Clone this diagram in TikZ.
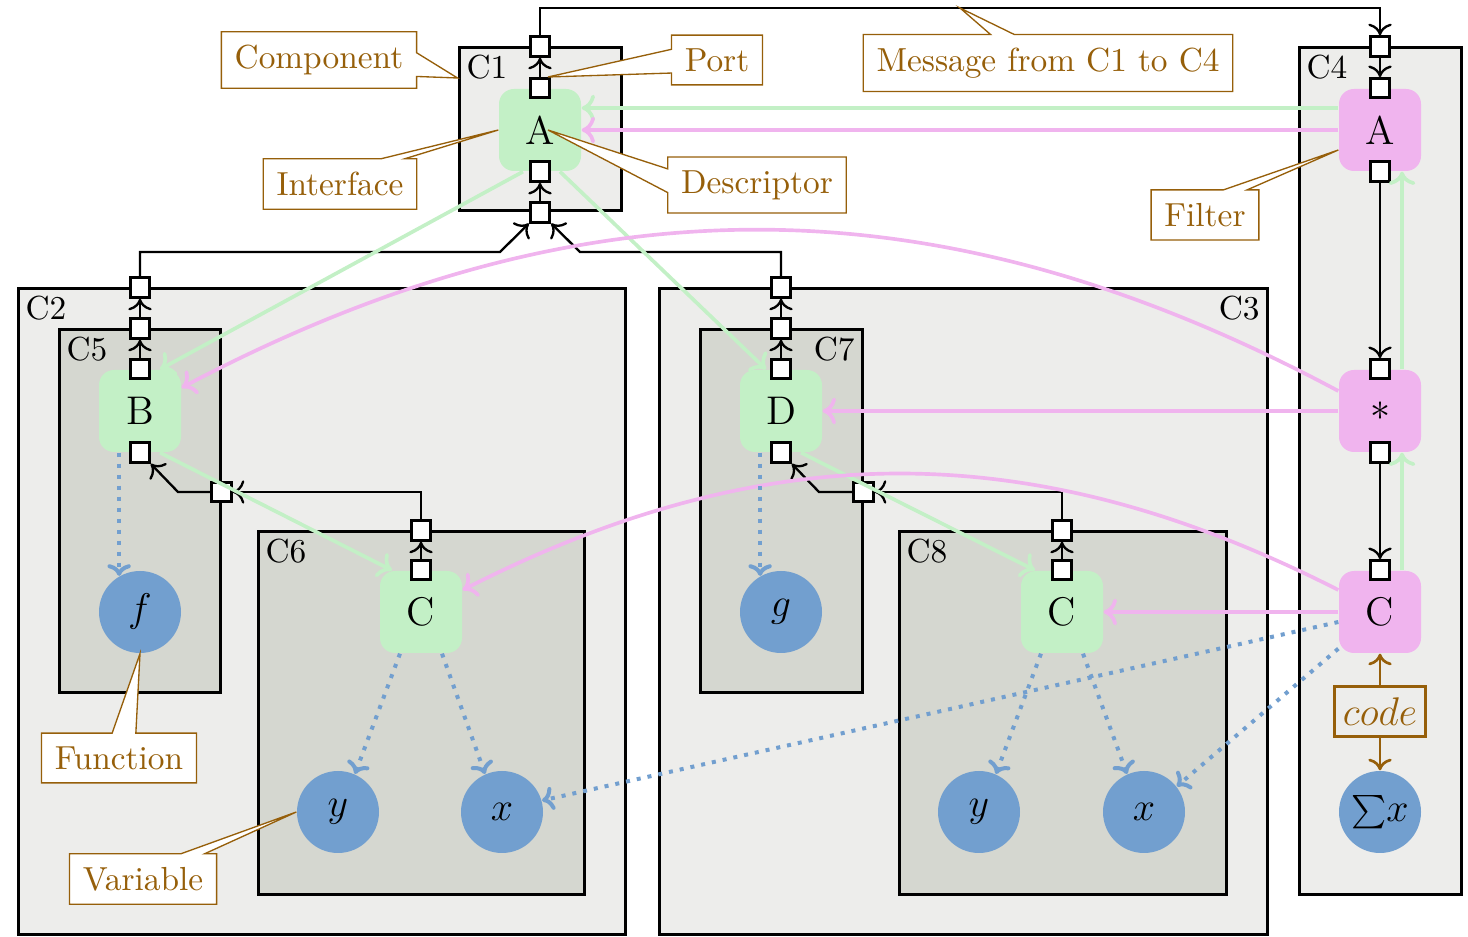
\documentclass[tikz,border=0pt]{standalone}
\usepackage{tikz}
\usetikzlibrary{positioning,calc,arrows.meta,shapes.callouts}
\definecolor{compgray}{RGB}{237,237,235}
\definecolor{subgray}{RGB}{213,215,208}
\definecolor{descgreen}{RGB}{195,240,198}
\definecolor{descpink}{RGB}{240,180,238}
\definecolor{varblue}{RGB}{114,159,207}
\definecolor{notebrown}{RGB}{150,95,10}
\tikzset{
  component/.style  = {draw, line width=0.9pt, fill=compgray, rectangle, inner sep=0pt},
  subcomp/.style    = {component, fill=subgray},
  tag/.style        = {inner sep=2.5pt},
  desc/.style       = {rectangle, rounded corners=4.5pt, minimum size=24.6pt,
                       inner sep=0pt, font=\large},
  green desc/.style = {desc, fill=descgreen},
  pink desc/.style  = {desc, fill=descpink},
  port/.style       = {draw, line width=0.9pt, fill=white, minimum size=5.8pt,
                       inner sep=0pt},
  var/.style        = {circle, fill=varblue, minimum size=24.6pt, inner sep=0pt,
                       font=\large},
  codebox/.style    = {draw=notebrown, line width=0.9pt, text=notebrown,
                       inner xsep=2.5pt, minimum height=13.2pt, font=\large},
  wire/.style       = {->, line width=0.7pt},
  msg/.style        = {-{To[length=4pt,width=8pt]}, draw=descgreen, line width=1.1pt},
  sel/.style        = {-{To[length=4pt,width=8pt]}, draw=descpink, line width=1.1pt},
  dep/.style        = {->, draw=varblue, line width=1.2pt,
                       dash pattern=on 1.2pt off 2.1pt},
  codeline/.style   = {->, draw=notebrown, line width=0.8pt},
  note/.style       = {rectangle callout, draw=notebrown, thin, fill=white,
                       text=notebrown, inner sep=4pt}
}

\begin{document}
\begin{tikzpicture}[x=0.3pt, y=-0.3pt, >={To[length=3.5pt,width=7pt]}]
  \useasboundingbox (0,0) rectangle (1468,937);

  % components
  \node[component, minimum width=182.1pt, minimum height=193.8pt] (C2) at (321.5,612) {};
  \node[component, minimum width=182.4pt, minimum height=193.8pt] (C3) at (963,612) {};
  \node[component, minimum width=48.6pt, minimum height=48.9pt] (C1) at (540,129.5) {};
  \node[component, minimum width=48.6pt, minimum height=254.1pt] (C4) at (1380,471.5) {};
  \node[subcomp, minimum width=48.3pt, minimum height=108.9pt] (C5) at (139.5,511.5) {};
  \node[subcomp, minimum width=97.8pt, minimum height=108.9pt] (C6) at (421,713.5) {};
  \node[subcomp, minimum width=48.6pt, minimum height=108.9pt] (C7) at (781,511.5) {};
  \node[subcomp, minimum width=98.1pt, minimum height=108.9pt] (C8) at (1062.5,713.5) {};

  \node[tag, anchor=north west] (C1-l) at (C1.north west) {C1};
  \node[tag, anchor=north west] (C2-l) at (C2.north west) {C2};
  \node[tag, anchor=north east] (C3-l) at (C3.north east) {C3};
  \node[tag, anchor=north west] (C4-l) at (C4.north west) {C4};
  \node[tag, anchor=north west] (C5-l) at (C5.north west) {C5};
  \node[tag, anchor=north west] (C6-l) at (C6.north west) {C6};
  \node[tag, anchor=north east] (C7-l) at (C7.north east) {C7};
  \node[tag, anchor=north west] (C8-l) at (C8.north west) {C8};

  % descriptors
  \node[green desc] (a1) at (540,130) {A};
  \node[pink desc] (a4) at (1380,130) {A};
  \node[pink desc] (star4) at (1380,411) {$*$};
  \node[pink desc] (c4) at (1380,612) {C};
  \node[green desc] (b5) at (140,411) {B};
  \node[green desc] (c6) at (421,612) {C};
  \node[green desc] (d7) at (781,411) {D};
  \node[green desc] (c8) at (1062,612) {C};

  % variables
  \node[var] (f) at (140,612) {$f$};
  \node[var] (g) at (781,612) {$g$};
  \node[var] (y6) at (338,812) {$y$};
  \node[var] (x6) at (502,812) {$x$};
  \node[var] (y8) at (979,812) {$y$};
  \node[var] (x8) at (1144,812) {$x$};
  \node[var] (sx) at (1380,812) {${\sum}x$};
  \node[codebox] (code) at (1380,712) {$code$};

  % ports
  \node[port] (C1-top) at (C1.north) {};
  \node[port] (C1-bot) at (C1.south) {};
  \node[port] (a1-top) at (a1.north) {};
  \node[port] (a1-bot) at (a1.south) {};
  \node[port] (C4-top) at (C4.north) {};
  \node[port] (a4-top) at (a4.north) {};
  \node[port] (a4-bot) at (a4.south) {};
  \node[port] (s4-top) at (star4.north) {};
  \node[port] (s4-bot) at (star4.south) {};
  \node[port] (c4-top) at (c4.north) {};
  \node[port] (C2-top) at (b5 |- C2.north) {};
  \node[port] (C5-top) at (b5 |- C5.north) {};
  \node[port] (b5-top) at (b5.north) {};
  \node[port] (b5-bot) at (b5.south) {};
  \node[port] (C5-right) at (C5.east |- 0,492) {};
  \node[port] (C6-top) at (c6 |- C6.north) {};
  \node[port] (c6-top) at (c6.north) {};
  \node[port] (C3-top) at (d7 |- C3.north) {};
  \node[port] (C7-top) at (d7 |- C7.north) {};
  \node[port] (d7-top) at (d7.north) {};
  \node[port] (d7-bot) at (d7.south) {};
  \node[port] (C7-right) at (C7.east |- 0,492) {};
  \node[port] (C8-top) at (c8 |- C8.north) {};
  \node[port] (c8-top) at (c8.north) {};

  % messages between ports
  \coordinate (mid) at (960,8);
  \coordinate (j2) at (500,252);
  \coordinate (j3) at (580,252);
  \coordinate (k5) at (178,492);
  \coordinate (k7) at (819,492);
  \draw[wire] (a1-top) -- (C1-top);
  \draw[wire] (C1-top) |- (mid) -| (C4-top);
  \draw[wire] (C4-top) -- (a4-top);
  \draw[wire] (a4-bot) -- (s4-top);
  \draw[wire] (s4-bot) -- (c4-top);
  \draw[wire] (C1-bot) -- (a1-bot);
  \draw[wire] (C2-top) |- (j2) -- (C1-bot);
  \draw[wire] (C3-top) |- (j3) -- (C1-bot);
  \draw[wire] (b5-top) -- (C5-top);
  \draw[wire] (C5-top) -- (C2-top);
  \draw[wire] (c6-top) -- (C6-top);
  \draw[wire] (C6-top) |- (C5-right);
  \draw[wire] (C5-right) -- (k5) -- (b5-bot);
  \draw[wire] (d7-top) -- (C7-top);
  \draw[wire] (C7-top) -- (C3-top);
  \draw[wire] (c8-top) -- (C8-top);
  \draw[wire] (C8-top) |- (C7-right);
  \draw[wire] (C7-right) -- (k7) -- (d7-bot);

  % interfaces
  \draw[msg] ([yshift=6.6pt]a4.west) -- ([yshift=6.6pt]a1.east);
  \draw[msg] ([xshift=-5.1pt]a1.south) -- ([xshift=6pt]b5.north);
  \draw[msg] ([xshift=6pt]a1.south) -- ([xshift=-4.5pt]d7.north);
  \draw[msg] ([xshift=6pt]b5.south) -- ([xshift=-8.7pt]c6.north);
  \draw[msg] ([xshift=6pt]d7.south) -- ([xshift=-8.1pt]c8.north);
  \draw[msg] ([xshift=6.6pt]c4.north) -- ([xshift=6.6pt]star4.south);
  \draw[msg] ([xshift=6.6pt]star4.north) -- ([xshift=6.6pt]a4.south);

  % filters
  \draw[sel] (a4) -- (a1);
  \draw[sel] (star4) -- (d7);
  \draw[sel] (c4) -- (c8);
  \draw[sel] ([yshift=6pt]star4.west) to[bend right=28] ([yshift=7pt]b5.east);
  \draw[sel] ([yshift=6.6pt]c4.west) to[bend right=27] ([yshift=6.6pt]c6.east);

  % variables used
  \draw[dep] (b5.south -| f.120) -- (f.120);
  \draw[dep] (d7.south -| g.120) -- (g.120);
  \draw[dep] ([xshift=-6.3pt]c6.south) -- (y6.66);
  \draw[dep] ([xshift=6.3pt]c6.south) -- (x6.114);
  \draw[dep] ([xshift=-6.3pt]c8.south) -- (y8.66);
  \draw[dep] ([xshift=6.3pt]c8.south) -- (x8.114);
  \draw[dep] ([yshift=-3pt]c4.west) -- (x6.16);
  \draw[dep] ([yshift=-11pt]c4.west) -- (x8.38);
  \draw[codeline] (code) -- (c4);
  \draw[codeline] (code) -- (sx);

  % callouts
  \node[note, callout absolute pointer={(C1.west |- 0,78)}] (n-comp) at (319,60) {Component};
  \node[note, callout absolute pointer={(548,77)}] (n-port) at (717,60) {Port};
  \node[note, callout absolute pointer={(a1.west)}] (n-intf) at (340,184) {Interface};
  \node[note, callout absolute pointer={([xshift=2.4pt]a1.center)}] (n-desc) at (757,185) {Descriptor};
  \node[note, callout absolute pointer={(mid)}] (n-msg) at (1048,63) {Message from C1 to C4};
  \node[note, callout absolute pointer={([yshift=-6pt]a4.west)}] (n-filt) at (1205,215) {Filter};
  \node[note, callout absolute pointer={(f.south)}] (n-func) at (119,758) {Function};
  \node[note, callout absolute pointer={(y6.west)}] (n-var) at (143,879) {Variable};
\end{tikzpicture}
\end{document}
